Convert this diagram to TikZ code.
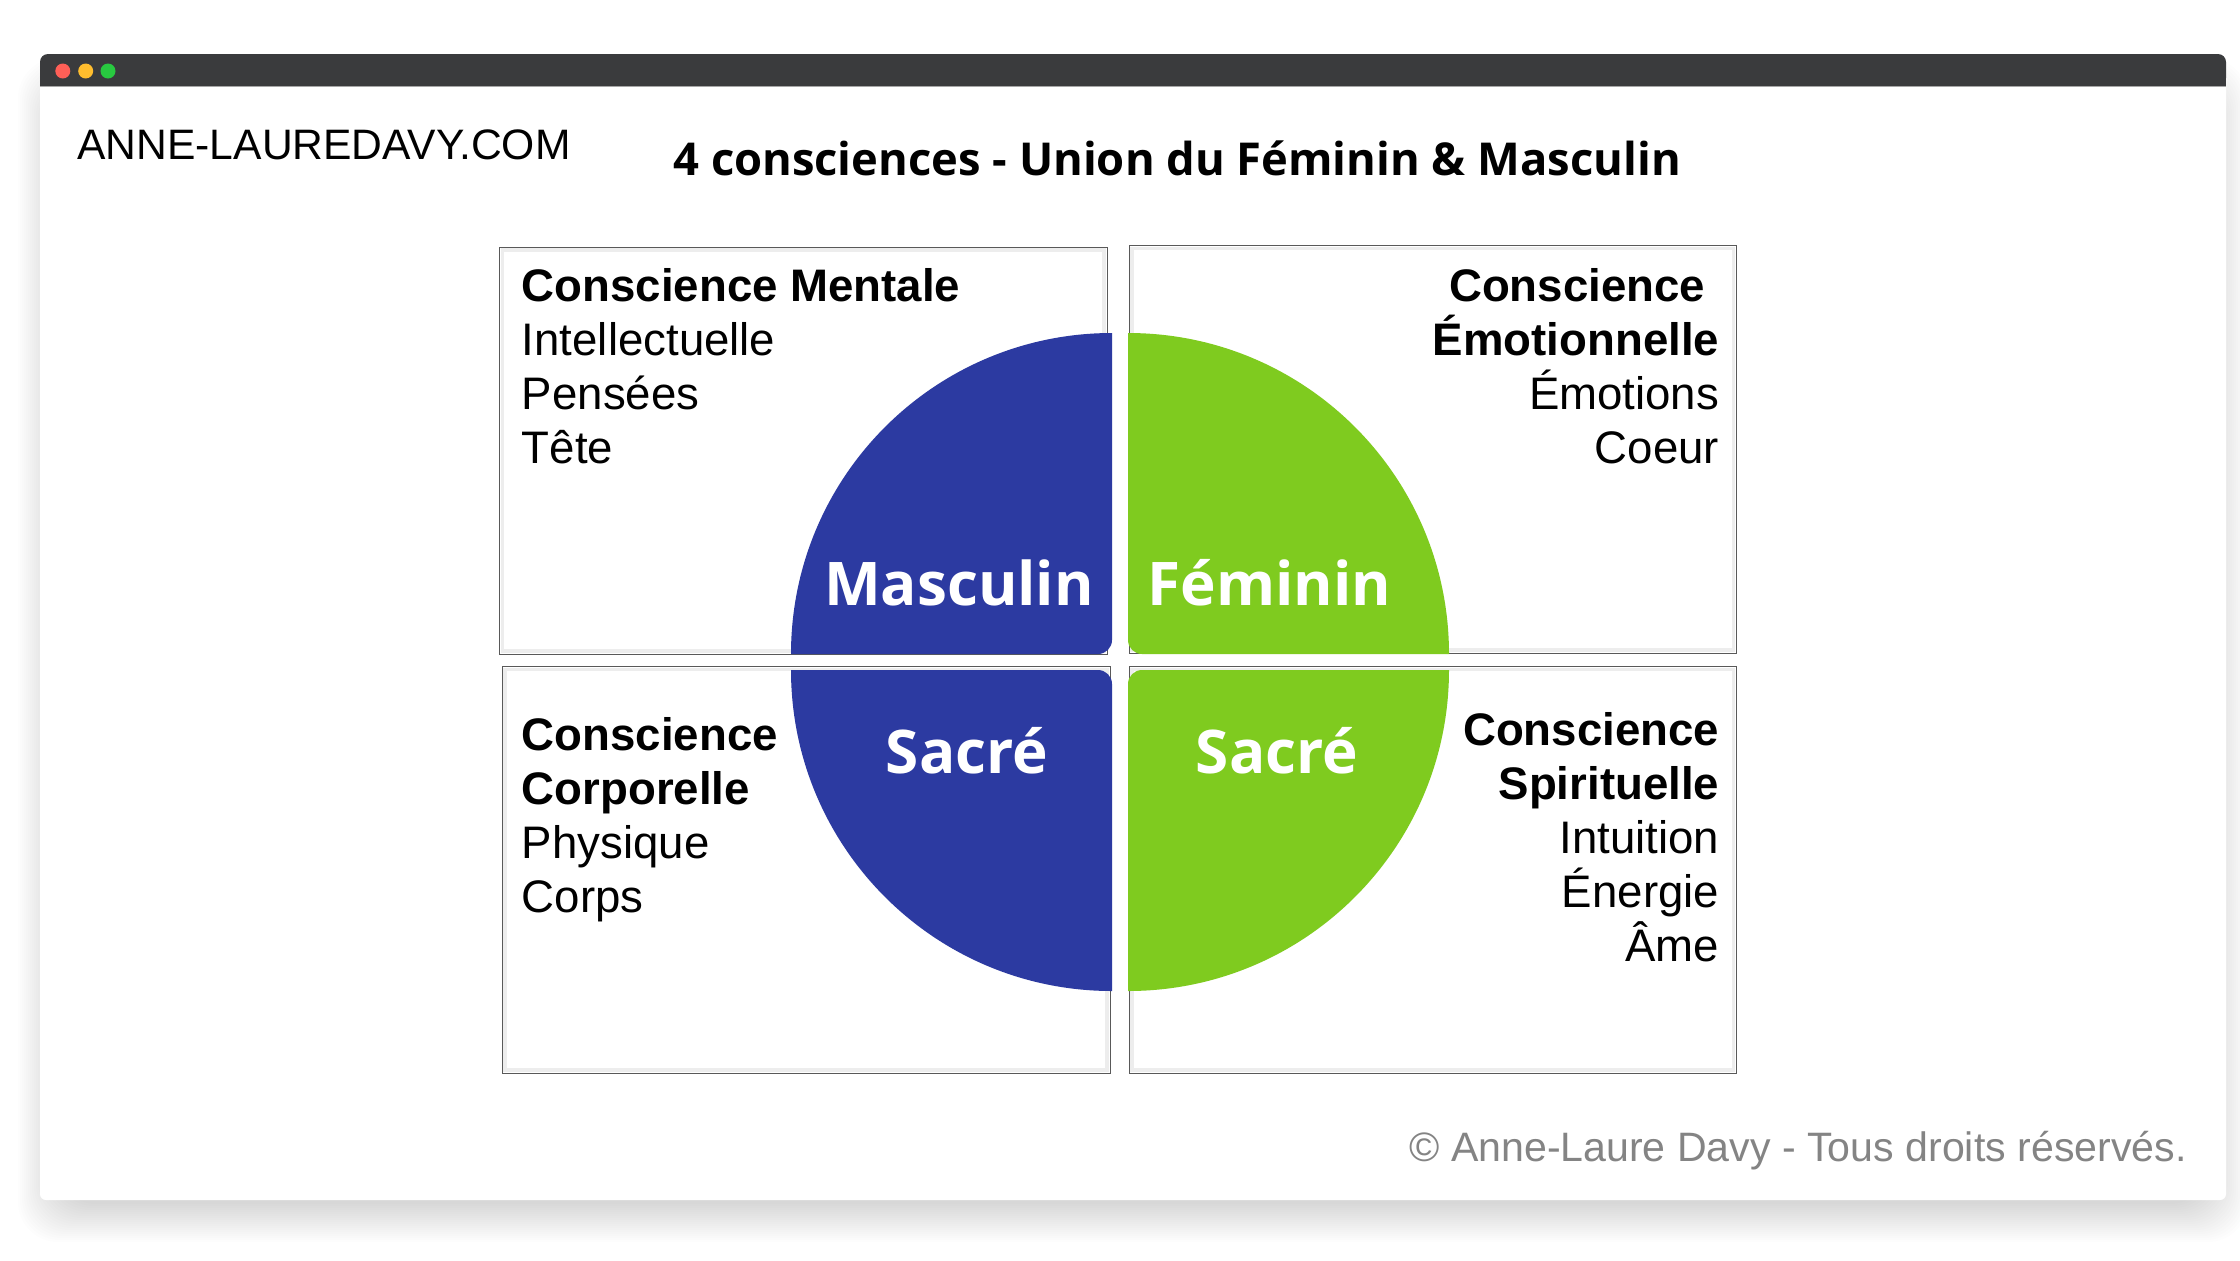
\documentclass[tikz,border=0pt]{standalone}
\usepackage{fontspec}
\setmainfont{Liberation Sans}
\newfontfamily\opensans{Open Sans}
\definecolor{barc}{HTML}{3A3B3D}
\definecolor{bluec}{HTML}{2C3AA1}
\definecolor{greenc}{HTML}{7FCB1F}
\definecolor{footc}{HTML}{848484}
\definecolor{dotr}{HTML}{FF5F57}
\definecolor{doty}{HTML}{FFBD2E}
\definecolor{dotg}{HTML}{28C940}
\tikzset{
  x=0.5pt,y=-0.5pt,
  quadbox/.style={draw=black!65,line width=0.5pt,fill=white},
  quadinner/.style={draw=black!7,line width=1.8pt},
  boxtext/.style={inner sep=0pt,font=\fontsize{22.8pt}{27pt}\selectfont},
  bigword/.style={inner sep=0pt,anchor=base,text=white,font=\opensans\bfseries\fontsize{30.1pt}{36pt}\selectfont},
}
\newcommand{\fl}{\rule{0pt}{16.5pt}}
\begin{document}
\begin{tikzpicture}
\useasboundingbox (0,0) rectangle (2240,1260);
% shadow
\foreach \i in {0,2,...,38}{
  \fill[black,opacity=0.0085,rounded corners=20pt] ({40-22+\i},{54+4+\i}) rectangle ({2226+22-\i},{1200+42-\i});
}
% window
\fill[white,rounded corners=3pt] (40,54) rectangle (2226,1200);
\fill[barc,rounded corners=4pt] (40,54) -- (2226,54) -- (2226,86) -- (40,86) -- cycle;
\fill[barc] (40,70) rectangle (2226,86);
\draw[black!35,line width=0.4pt] (40,86.5) -- (2226,86.5);
\fill[white] (40,87) rectangle (2226,100);
\fill[dotr] (62.8,71) circle (7.5);
\fill[doty] (85.7,71) circle (7.5);
\fill[dotg] (108,71) circle (7.5);
% headers
\node[inner sep=0pt,anchor=base west,font=\fontsize{21.3pt}{24pt}\selectfont] (site) at (77,159) {ANNE-LAUREDAVY.COM};
\node[inner sep=0pt,anchor=base west,font=\opensans\bfseries\fontsize{22.66pt}{27pt}\selectfont] (title) at (673,175) {4 consciences - Union du Féminin \& Masculin};
\node[inner sep=0pt,anchor=base east,text=footc,font=\fontsize{20.55pt}{24pt}\selectfont] (foot) at (2187,1161) {© Anne-Laure Davy - Tous droits réservés.};
% boxes
\foreach \a/\b/\c/\d in {499.5/247/1107/654,502/666.5/1110/1073,1129/245.5/1736.5/653,1129/666.5/1736.5/1073}{
  \draw[quadbox] (\a,\b) rectangle (\c,\d);
  \draw[quadinner] (\a+3,\b+3) rectangle (\c-3,\d-3);
}
% quarter discs
\fill[bluec] (1112,333) arc[start angle=270,end angle=180,radius=321] -- (1098,654) arc[start angle=90,end angle=0,radius=14] -- cycle;
\fill[bluec] (791,670) -- (1098,670) arc[start angle=270,end angle=360,radius=14] -- (1112,991) arc[start angle=90,end angle=180,radius=321] -- cycle;
\fill[greenc] (1128,333) arc[start angle=270,end angle=360,radius=321] -- (1142,654) arc[start angle=90,end angle=180,radius=14] -- cycle;
\fill[greenc] (1449,670) -- (1142,670) arc[start angle=270,end angle=180,radius=14] -- (1128,991) arc[start angle=90,end angle=0,radius=321] -- cycle;
% big words
\node[bigword] (masc) at (959,605) {Masculin};
\node[bigword] (fem) at (1269.5,605) {Féminin};
\node[bigword] (sacb) at (967,773) {Sacré};
\node[bigword] (sacg) at (1277,773) {Sacré};
% texts
\node[boxtext,anchor=north west,align=left] (tl) at (521.5,268) {\fl\textbf{Conscience Mentale}\\Intellectuelle\\Pensées\\Tête};
\node[boxtext,anchor=north west,align=left] (bl) at (521.5,717) {\fl\textbf{Conscience}\\\textbf{Corporelle}\\Physique\\Corps};
\node[boxtext,anchor=north east,align=right] (tr) at (1719.5,268) {\fl\textbf{Conscience}\hspace*{7pt}\\\textbf{Émotionnelle}\\Émotions\\Coeur};
\node[boxtext,anchor=north east,align=right] (br) at (1719.5,712) {\fl\textbf{Conscience}\\\textbf{Spirituelle}\\Intuition\\Énergie\\Âme};
\end{tikzpicture}
\end{document}
